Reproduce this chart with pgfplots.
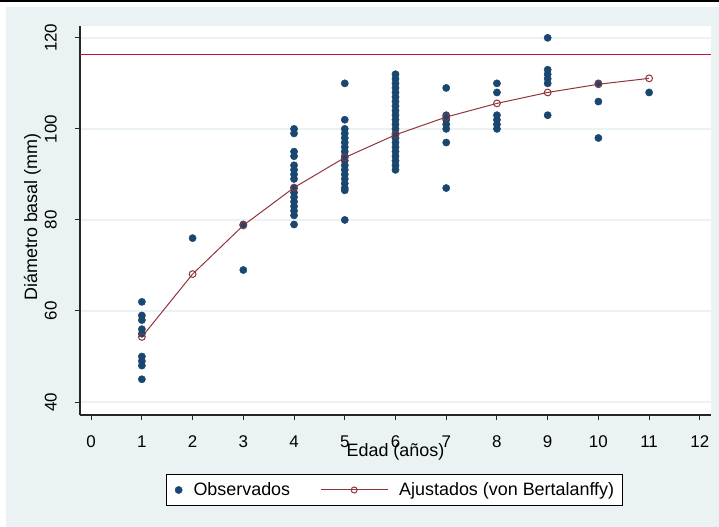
\documentclass[border=0pt]{standalone}
\usepackage{pgfplots}
\pgfplotsset{compat=1.18}
\usepackage{fontspec}
\setmainfont{Liberation Sans}
\definecolor{bgc}{RGB}{234,242,243}
\definecolor{snavy}{RGB}{26,71,111}
\definecolor{smaroon}{RGB}{144,53,59}
\definecolor{scran}{RGB}{200,16,56}
\pgfplotsset{
  obsleg/.style={legend image code/.code={\draw[##1] plot coordinates {(0bp,0bp)}; \path (-3.6bp,0bp) (3.6bp,0bp);}},
  fitleg/.style={legend image code/.code={\draw[##1, mark=none] (0bp,0bp) -- (67bp,0bp); \draw[##1, only marks, mark size=3bp] plot coordinates {(33.5bp,0bp)};}},
}
\begin{document}
\begin{tikzpicture}
\useasboundingbox (0,0) rectangle (719bp,527bp);
\fill[white] (0,0) rectangle (719bp,527bp);
\fill[bgc] (6bp,0) rectangle (719bp,520bp);
\fill[black] (0,525.3bp) rectangle (719bp,527bp);
\begin{axis}[
 at={(80bp,112bp)}, anchor=south west,
 width=631bp, height=389bp, scale only axis,
 xmin=-0.22, xmax=12.22, ymin=37.15, ymax=122.6,
 axis background/.style={fill=white},
 axis x line*=bottom, axis y line*=left,
 axis line style={-, line width=1.1bp, draw=black!85},
 xtick={0,...,12}, ytick={40,60,...,120},
 tick align=outside, major tick length=5bp,
 tick style={line width=1bp, black!85},
 ymajorgrids, grid style={bgc, line width=1.4bp},
 /pgf/number format/assume math mode=true,
 ticklabel style={font=\fontsize{17}{20}\selectfont, inner sep=0pt},
 xticklabel style={anchor=north}, xticklabel shift=15.7bp,
 yticklabel style={rotate=90, anchor=south}, yticklabel shift=18bp,
 xlabel={Edad (años)}, ylabel={Diámetro basal (mm)},
 label style={font=\fontsize{18}{21}\selectfont, inner sep=0pt},
 xlabel style={at={(axis description cs:0.5,-0.1072)}, anchor=base},
 ylabel style={at={(axis description cs:-0.0681,0.509)}, anchor=base},
 legend columns=2,
 legend style={at={(axis description cs:0.4984,-0.1928)}, anchor=center,
   draw=black, line width=1bp, fill=white,
   font=\fontsize{18}{21}\selectfont,
   inner xsep=8.4bp, inner ysep=8bp, nodes={inner sep=0pt},
   /tikz/every odd column/.append style={column sep=11bp},
   /tikz/every even column/.append style={column sep=30bp}},
]
\addplot[scran, line width=1.4bp, forget plot] coordinates {(-0.22,116.3) (12.22,116.3)};
\addplot[only marks, mark=*, mark size=3.6bp, snavy, line width=0.5bp,
  mark options={draw=snavy, fill=snavy}, obsleg]
  table {
x y
1 62
1 59
1 58
1 56
1 55
1 50
1 49
1 48
1 45
2 76
3 79
3 69
4 100
4 99
4 95
4 94
4 92
4 91
4 90
4 89
4 87
4 86
4 85
4 84
4 83
4 82
4 81
4 79
5 110
5 102
5 100
5 99
5 98
5 97
5 96
5 95
5 94
5 93
5 92
5 91
5 90
5 89
5 88
5 87
5 86.5
5 80
6 112
6 111
6 110
6 109
6 108
6 107
6 106
6 105
6 104
6 103
6 102
6 101
6 100
6 99
6 98
6 97
6 96
6 95
6 94
6 93
6 92
6 91
7 109
7 103
7 102
7 101
7 100
7 97
7 87
8 110
8 108
8 103
8 102
8 101
8 100
9 120
9 113
9 112
9 111
9 110
9 103
10 110
10 106
10 98
11 108
};
\addlegendentry{Observados}
\addplot[smaroon, line width=1bp, mark=o, mark size=3.4bp, mark options={line width=1bp}, fitleg]
  coordinates {(1,54.3)(2,68.1)(3,78.8)(4,87.1)(5,93.7)(6,98.7)(7,102.6)(8,105.6)(9,108.0)(10,109.8)(11,111.1)};
\addlegendentry{Ajustados (von Bertalanffy)\hspace{7.6bp}}
\end{axis}
\end{tikzpicture}
\end{document}
